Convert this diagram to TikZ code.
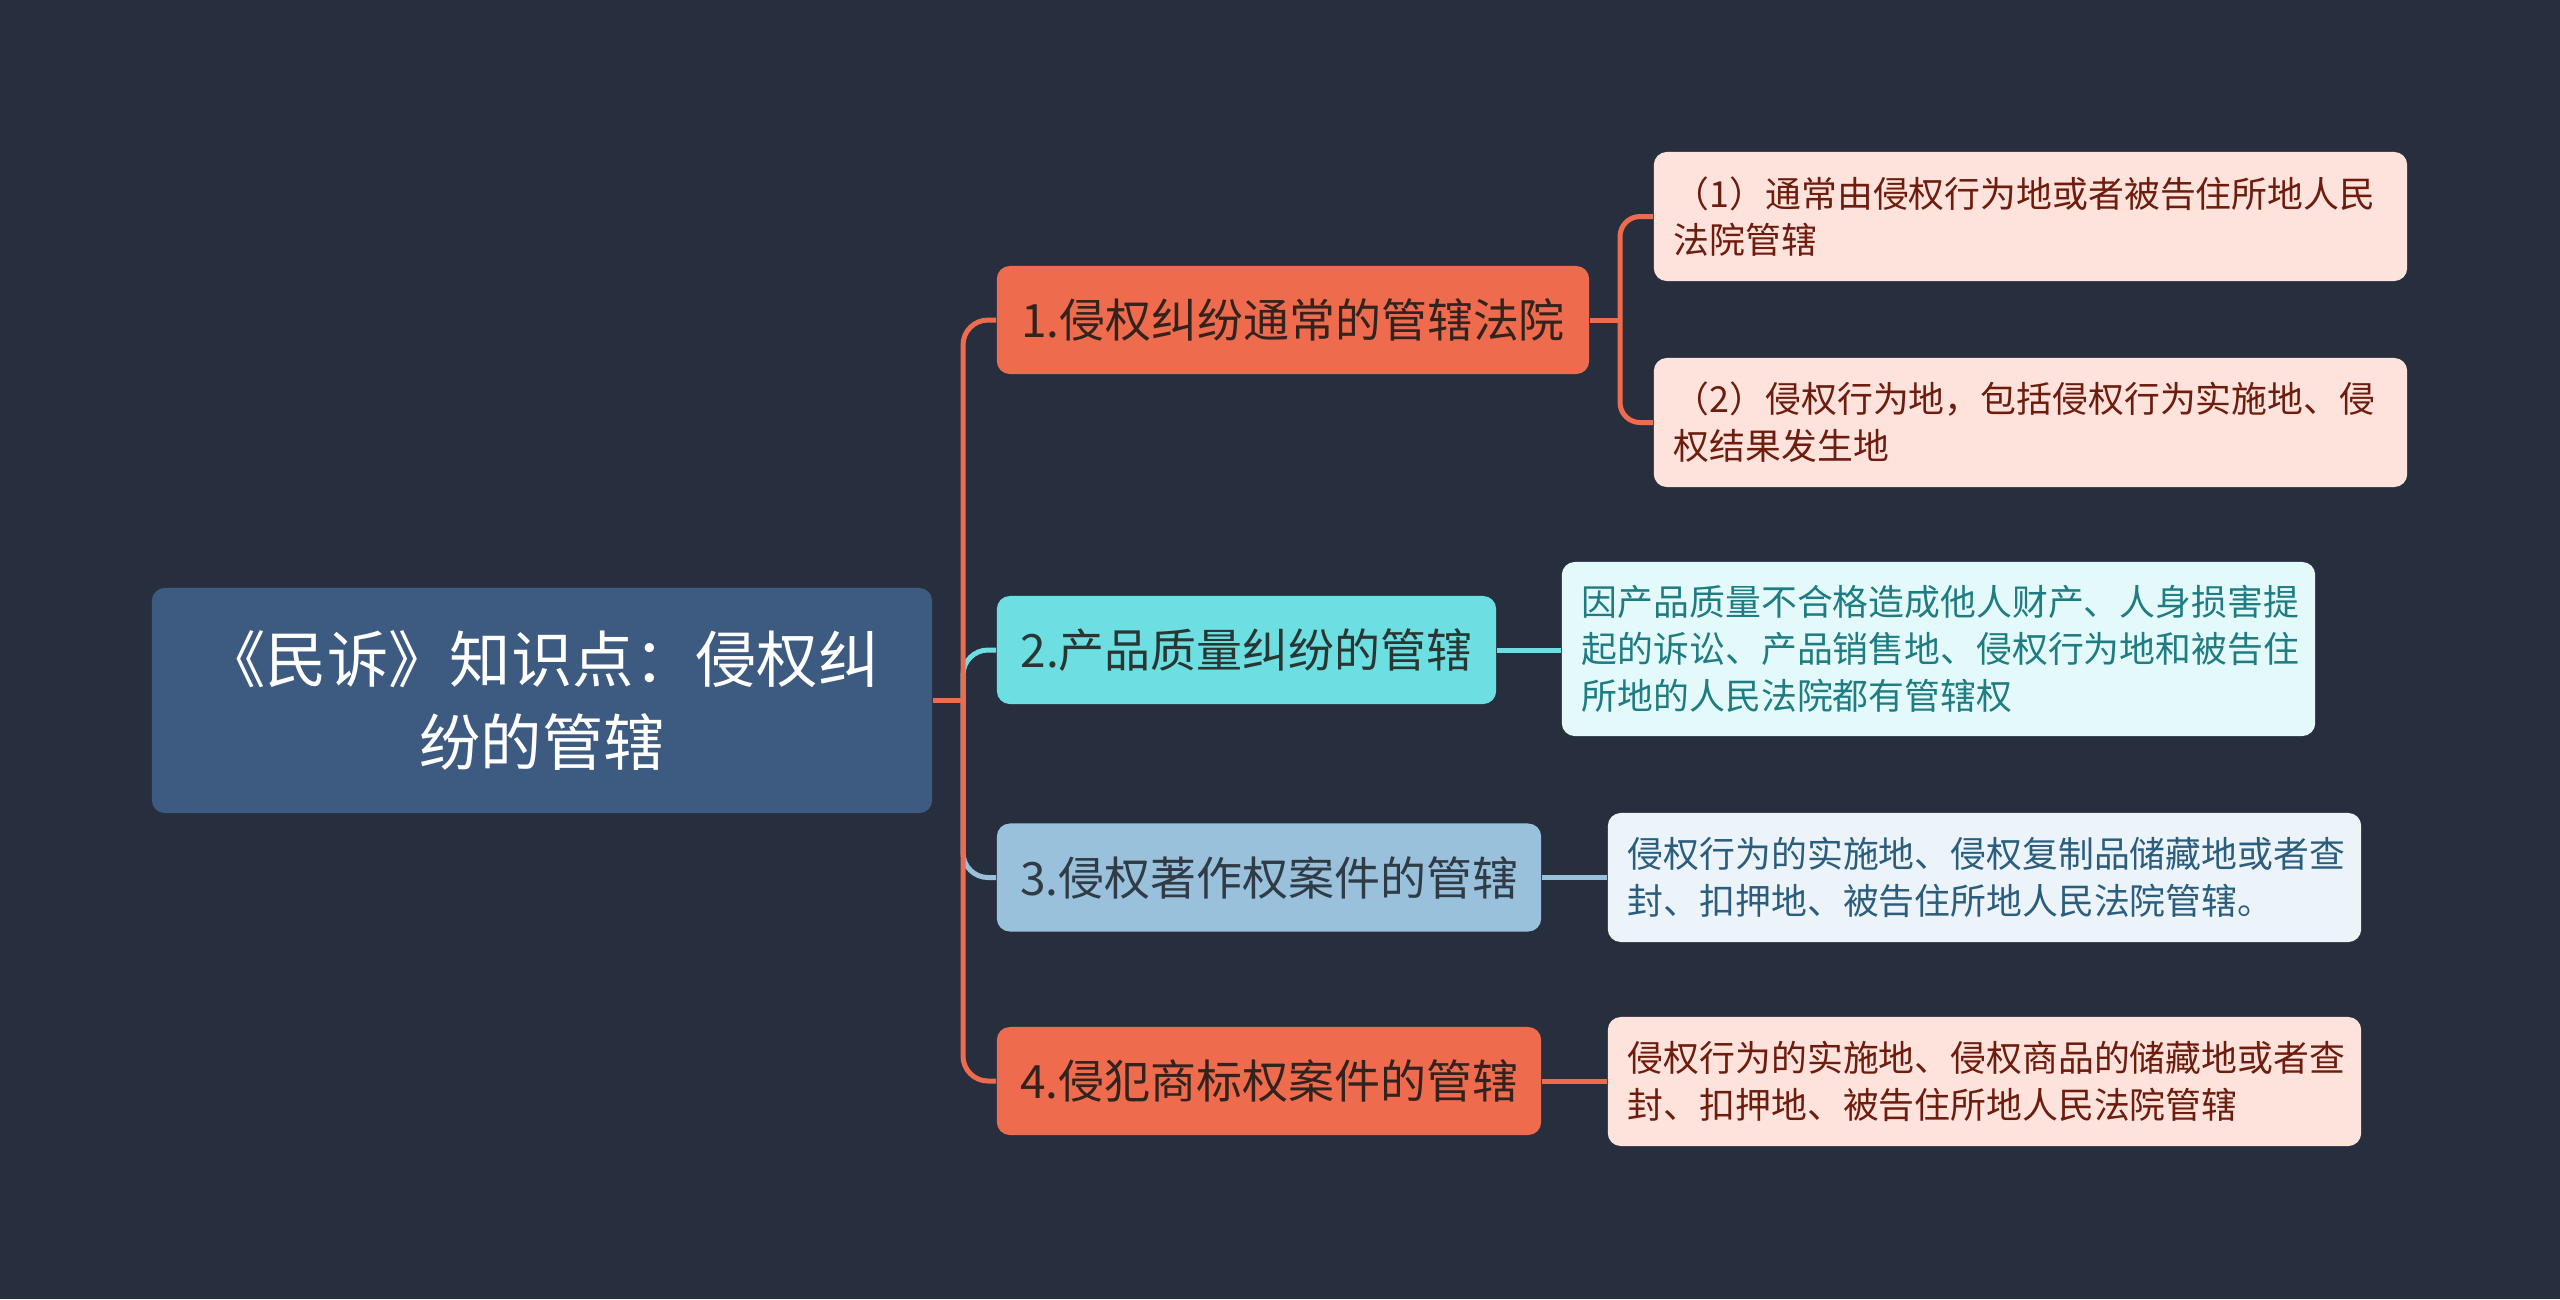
\documentclass[tikz,border=0pt]{standalone}
\usepackage{fontspec}
\setmainfont{Noto Sans CJK SC}
\definecolor{bgc}{HTML}{272F3E}
\definecolor{rootc}{HTML}{3D5A80}
\definecolor{orc}{HTML}{EF6B4D}
\definecolor{cyc}{HTML}{6DDFE2}
\definecolor{lbc}{HTML}{99C1DC}
\definecolor{pinkc}{HTML}{FDE3DC}
\definecolor{lcyc}{HTML}{E4FAFA}
\definecolor{lblc}{HTML}{ECF4F9}
\definecolor{redt}{HTML}{6E1C0E}
\definecolor{tealt}{HTML}{1E7C82}
\definecolor{bluet}{HTML}{2B5E7E}
\definecolor{darkt}{HTML}{33231F}
\begin{document}
\begin{tikzpicture}[x=0.01cm,y=-0.01cm,
  box/.style={rounded corners=0.13cm, inner sep=0pt, align=center},
  rootbox/.style={box, fill=rootc, text=white, font=\fontsize{17.45}{23.5}\selectfont, minimum width=7.8cm, minimum height=2.25cm},
  branch/.style={box, font=\fontsize{13.07}{16}\selectfont, minimum height=1.08cm, text=darkt},
  leaf/.style={box, font=\fontsize{10.2}{13.3}\selectfont, text width=7.13cm, inner xsep=0.2cm, align=left, minimum height=1.29cm},
  conn/.style={line width=1.42pt, rounded corners=0.25cm},
  conn2/.style={line width=1.42pt, rounded corners=0.2cm}]
\fill[bgc] (0,0) rectangle (2560,1299);
\useasboundingbox (0,0) rectangle (2560,1299);

\node[rootbox] (root) at (542,700.5) {《民诉》知识点：侵权纠\\纷的管辖};

\node[branch, fill=orc, minimum width=5.92cm] (b1) at (1293,320) {1.侵权纠纷通常的管辖法院};
\node[branch, fill=cyc, minimum width=4.99cm, text=darkt!80!teal] (b2) at (1246.5,650) {2.产品质量纠纷的管辖};
\node[branch, fill=lbc, minimum width=5.44cm, text=darkt!60!bluet] (b3) at (1269,877.5) {3.侵权著作权案件的管辖};
\node[branch, fill=orc, minimum width=5.44cm] (b4) at (1269,1081) {4.侵犯商标权案件的管辖};

\node[leaf, fill=pinkc, text=redt] (l1a) at (2030.5,216.5) {（1）通常由侵权行为地或者被告住所地人民\\法院管辖};
\node[leaf, fill=pinkc, text=redt] (l1b) at (2030.5,422.5) {（2）侵权行为地，包括侵权行为实施地、侵\\权结果发生地};
\node[leaf, fill=lcyc, text=tealt, minimum height=1.74cm] (l2) at (1938.5,649) {因产品质量不合格造成他人财产、人身损害提\\起的诉讼、产品销售地、侵权行为地和被告住\\所地的人民法院都有管辖权};
\node[leaf, fill=lblc, text=bluet] (l3) at (1984.5,877.5) {侵权行为的实施地、侵权复制品储藏地或者查\\封、扣押地、被告住所地人民法院管辖。};
\node[leaf, fill=pinkc, text=redt] (l4) at (1984.5,1081.5) {侵权行为的实施地、侵权商品的储藏地或者查\\封、扣押地、被告住所地人民法院管辖};

\coordinate (trunk) at (963,700.5);
\coordinate (fork) at (1620,320);

\draw[conn, cyc] (trunk) |- (b2.west);
\draw[conn, lbc] (trunk) |- (b3.west);
\draw[conn, orc] (root.east) -- (trunk);
\draw[conn, orc] (trunk) |- (b1.west);
\draw[conn, orc] (trunk) |- (b4.west);

\draw[conn2, orc] (b1.east) -- (fork);
\draw[conn2, orc] (fork) |- (l1a.west);
\draw[conn2, orc] (fork) |- (l1b.west);
\draw[conn2, cyc] (b2.east) -- (l2.west |- b2.east);
\draw[conn2, lbc] (b3.east) -- (l3.west |- b3.east);
\draw[conn2, orc] (b4.east) -- (l4.west |- b4.east);
\end{tikzpicture}
\end{document}
